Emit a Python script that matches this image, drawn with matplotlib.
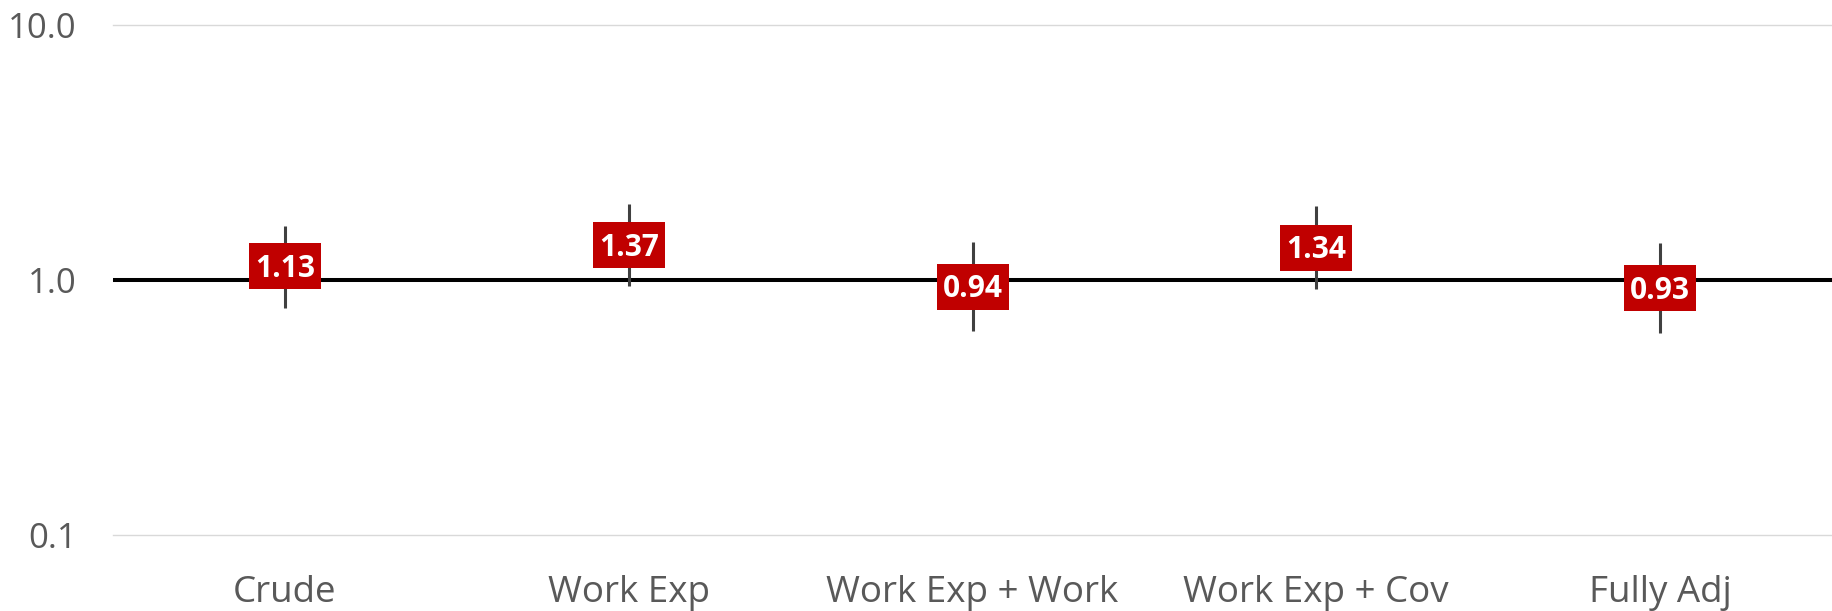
import matplotlib
matplotlib.use("Agg")
import matplotlib.pyplot as plt
from matplotlib.ticker import FixedLocator, NullLocator, FixedFormatter

plt.rcParams['font.family'] = ['Open Sans', 'DejaVu Sans']

# Odds ratios with confidence limits for each model
models = ['Crude', 'Work Exp', 'Work Exp + Work', 'Work Exp + Cov', 'Fully Adj']
odds_ratio = [1.13, 1.37, 0.94, 1.34, 0.93]
ci_lower = [0.78, 0.95, 0.63, 0.92, 0.62]
ci_upper = [1.63, 1.99, 1.41, 1.95, 1.40]

y_ticks = [0.1, 1.0, 10.0]
y_tick_labels = ['0.1', '1.0', '10.0']

fig = plt.figure(figsize=(18.32, 6.11), dpi=100)
ax = fig.add_axes([113 / 1832, (611 - 535) / 611, 1 - 113 / 1832, 510 / 611])

ax.set_yscale('log')
ax.set_ylim(0.1, 10)
ax.set_xlim(-0.5, len(models) - 0.5)

# light gridlines at each decade
for t in y_ticks:
    ax.axhline(t, color='#d9d9d9', lw=1.0, zorder=0, clip_on=False)
# reference line at OR = 1
ax.axhline(1.0, color='black', lw=2.9, zorder=1)

x = list(range(len(models)))
ax.vlines(x, ci_lower, ci_upper, color='#404040', lw=2.2, zorder=2)

# red label boxes: rectangular marker 73x47 px
box_w, box_h = 73, 47
box = [(-box_w / box_h, -1), (box_w / box_h, -1), (box_w / box_h, 1),
       (-box_w / box_h, 1), (-box_w / box_h, -1)]
ax.plot(x, odds_ratio, ls='none', marker=box, markersize=box_w * 0.72,
        markerfacecolor='#c00000', markeredgewidth=0, zorder=3)

for xi, v in zip(x, odds_ratio):
    ax.annotate(f'{v:.2f}', (xi, v), xytext=(0, -7.6), textcoords='offset points',
                ha='center', va='baseline', color='white',
                fontsize=21.5, fontweight='bold', zorder=4)

ax.yaxis.set_major_locator(FixedLocator(y_ticks))
ax.yaxis.set_major_formatter(FixedFormatter(y_tick_labels))
ax.yaxis.set_minor_locator(NullLocator())
ax.set_xticks(x)
ax.set_xticklabels(models, fontsize=26.5)
ax.tick_params(axis='both', length=0, labelcolor='#595959')
ax.tick_params(axis='y', labelsize=25, pad=26)
ax.tick_params(axis='x', pad=29)

for s in ax.spines.values():
    s.set_visible(False)

fig.savefig('out.png', dpi=100)
